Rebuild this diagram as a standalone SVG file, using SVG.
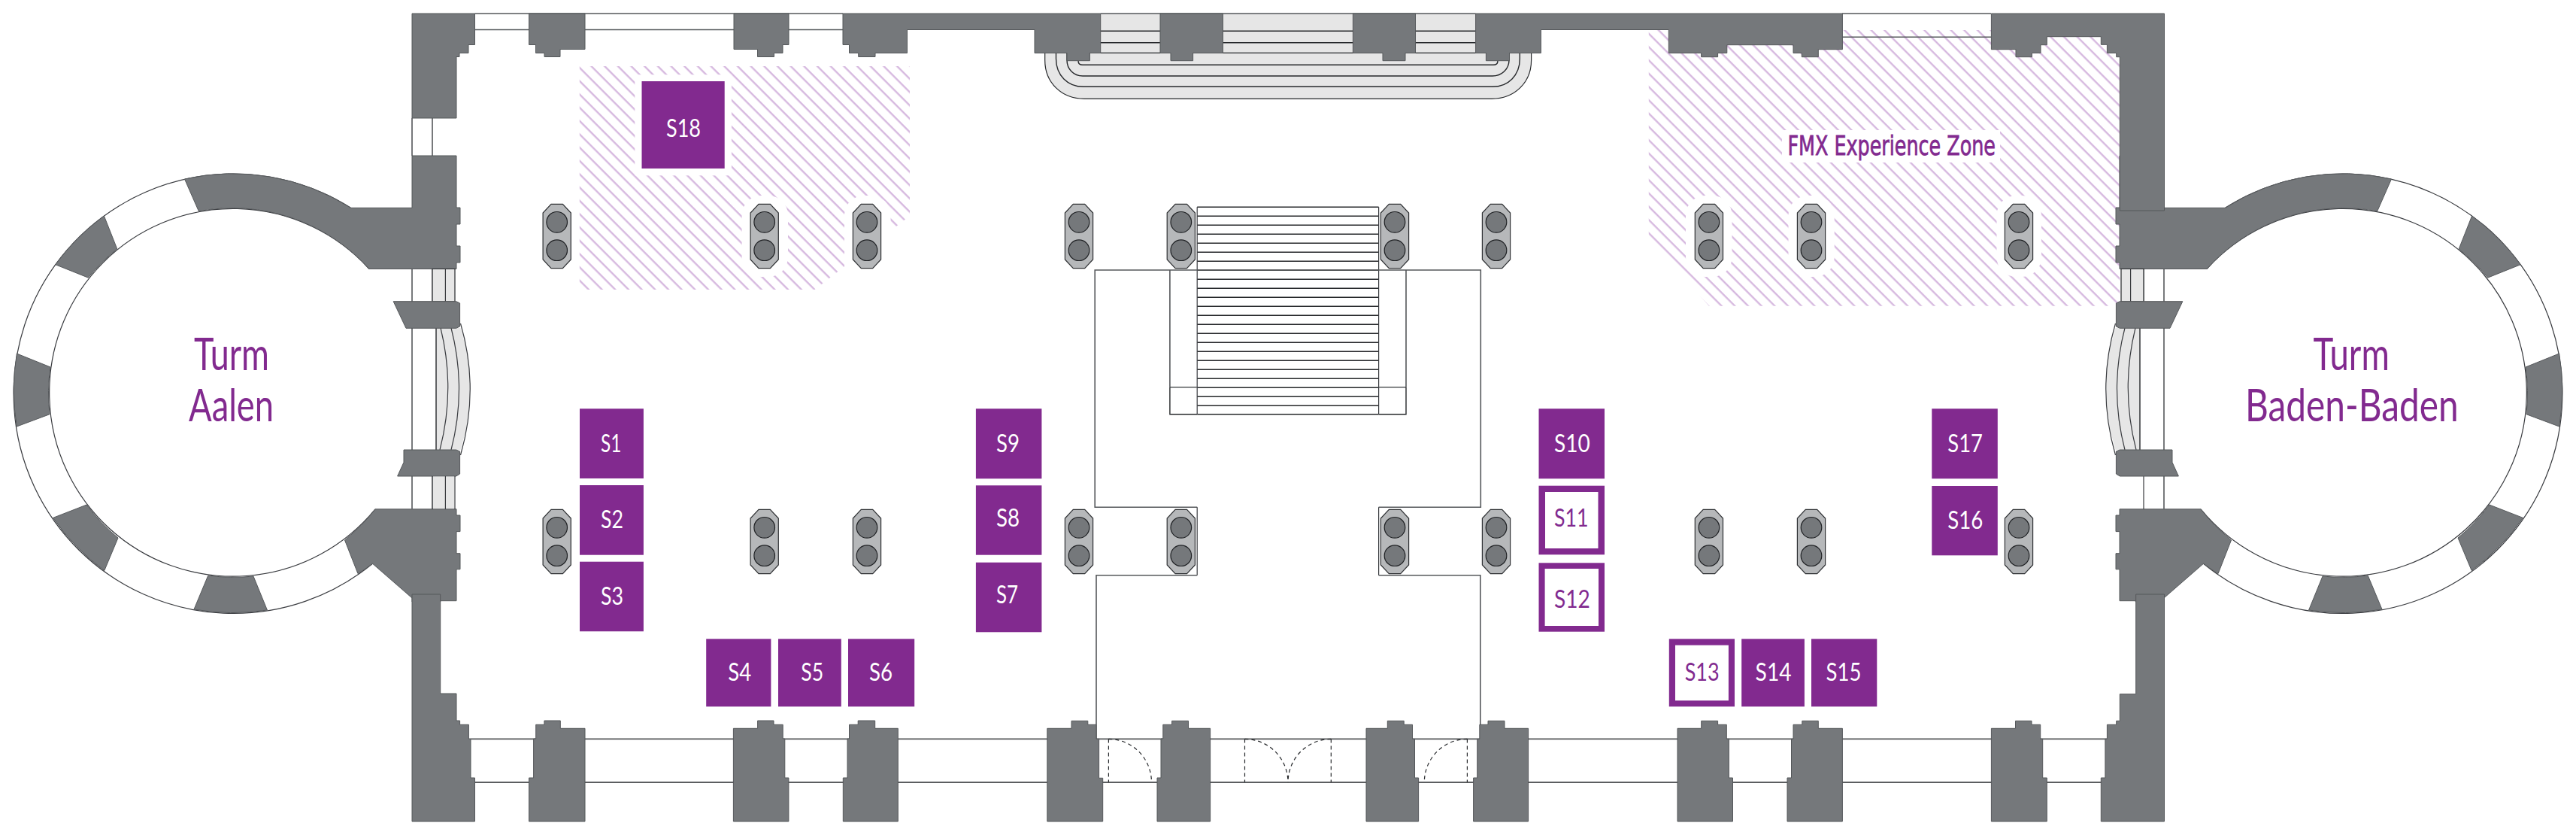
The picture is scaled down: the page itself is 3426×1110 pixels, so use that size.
<svg xmlns="http://www.w3.org/2000/svg" xmlns:xlink="http://www.w3.org/1999/xlink" width="3426" height="1110" viewBox="0 0 3426 1110">
<style>
.w{fill:#75787b;stroke:#55585b;stroke-width:1}
.l{fill:none;stroke:#55585b;stroke-width:1.6}
.k{fill:none;stroke:#26282b;stroke-width:1.4}
.t{fill:none;stroke:#3a3c40;stroke-width:1.2}
.g{fill:#e6e6e6;stroke:#26282b;stroke-width:1.2}
.d{fill:none;stroke:#26282b;stroke-width:1.2;stroke-dasharray:5 4}
.b{fill:#822a8f}
.i{fill:#fff}
.s{font-family:"Lato","Noto Sans",sans-serif;font-size:33px;fill:#fff}
.p{fill:#822a8f}
.big{font-family:"Lato","Noto Sans",sans-serif;font-size:60px;font-weight:400;fill:#822a8f}
.fmx{font-family:"DejaVu Sans",sans-serif;font-size:35px;fill:#822a8f;stroke:#822a8f;stroke-width:.8}
</style>
<defs>
<pattern id="hatch" patternUnits="userSpaceOnUse" width="12.5" height="12.5" patternTransform="rotate(45)">
<rect x="0" y="5" width="12.5" height="2.2" fill="#d3b3dd"/>
</pattern>
<g id="column">
<path d="M-7.7,-42.7 H7.7 L18.6,-31 V31 L7.7,42.7 H-7.7 L-18.6,31 V-31 Z" fill="#b6b8ba" stroke="#2e3033" stroke-width="1.2"/>
<circle cx="0" cy="-18.7" r="13.8" fill="#75787b" stroke="#1f2124" stroke-width="1.2"/>
<circle cx="0" cy="18.7" r="13.8" fill="#75787b" stroke="#1f2124" stroke-width="1.2"/>
</g>
<g id="tower">
<path class="t" d="M466.5,276.3 A292.2,292.2 0 1 0 495.5,749.3"/>
<path class="t" d="M491,357.5 A244.4,244.4 0 1 0 499,676.8"/>
<path class="w" d="M548,207 H607 V276 H612 V298 H607 V327 H612 V349 H607 V357.5 H491 A244.4,244.4 0 0 0 264.3,280.8 L245.5,238 A292.2,292.2 0 0 1 466.5,276.3 H548 Z"/>
<path class="w" d="M138.4,287 A292.2,292.2 0 0 0 73.7,351.7 L117.4,369.2 A244.4,244.4 0 0 1 155.8,331 Z"/>
<path class="w" d="M22.3,470 A292.2,292.2 0 0 0 22.3,567 L66,550.7 A244.4,244.4 0 0 1 67,488 Z"/>
<path class="w" d="M70.5,688.4 A292.2,292.2 0 0 0 138.8,758.5 L157,715 A244.4,244.4 0 0 1 115.2,671 Z"/>
<path class="w" d="M258,810 A292.2,292.2 0 0 0 355.4,811 L337,766 A244.4,244.4 0 0 1 276.8,765 Z"/>
<path class="w" d="M499,676.8 H607 V685 H612 V706.6 H607 V735.7 H612 V756.8 H607 V798.7 H585.7 V800 H548 V795 L495.5,749.3 A292.2,292.2 0 0 1 476,762.6 L458.5,718 A244.4,244.4 0 0 0 499,676.8 Z"/>
<path class="l" d="M548,357.5 V676.8"/>
<path class="t" d="M575,357.5 V400 M575,633 V677"/>
<path class="g" d="M575,357.5 H605 V401 H575 Z"/>
<path class="t" d="M592.4,357.5 V401"/>
<path d="M580,436 H612.5 Q638,517 612.5,598 H580 Z" fill="#e6e6e6"/>
<path class="k" d="M580,436 V598"/>
<path class="t" d="M586,436 Q606,517 585,598 M600,436 Q621,517 600,598 M612.5,430 Q638,517 612.5,605"/>
<path class="w" d="M523.2,400.7 H606.7 L611.6,403 V434 L606.7,436.3 H540 Z"/>
<path class="w" d="M537,598 H606.7 L611.6,600 V630 L606.7,633 H528.6 L537,614.6 Z"/>
</g>
</defs>
<rect width="3426" height="1110" fill="#fff"/>

<g id="zones">
<path fill="url(#hatch)" d="M770.8,88 H1210 V287 L1083.6,385 H770.8 Z"/>
<path fill="url(#hatch)" d="M2192.8,40 H2819.3 V406.7 H2272.9 L2192.8,316.7 Z"/>
<g fill="#fff">
<rect x="844.3" y="99.3" width="128.6" height="134"/>
<rect x="986.6" y="260" width="61.4" height="108" rx="26"/>
<rect x="1123" y="260" width="61.6" height="125" rx="26"/>
<rect x="2242" y="260" width="61.5" height="108" rx="26"/>
<rect x="2378.5" y="260" width="61.2" height="108" rx="26"/>
<rect x="2655.5" y="260" width="59.5" height="108" rx="26"/>
<rect x="2370" y="173" width="290" height="43"/>
</g>
</g>

<g id="stairs-top">
<path class="g" d="M1389.7,70.5 V80 C1389.7,110 1412,131.3 1442,131.3 H1984 C2014,131.3 2036.6,110 2036.6,80 V70.5 Z"/>
<path class="k" d="M1404.5,70.5 V78 C1404.5,100 1420,115.3 1441,115.3 H1985 C2006,115.3 2021.3,100 2021.3,78 V70.5"/>
<path class="k" d="M1419,70.5 V80 C1419,92 1428,101 1440,101 H1985 C1997,101 2007,92 2007,80 V70.5"/>
<path class="k" d="M1434,80.7 C1434,84 1436,86.3 1440,86.3 H1986 C1990,86.3 1992,84 1992,80.7"/>
<rect x="1463.7" y="18" width="498.9" height="52.5" fill="#e6e6e6"/>
<path class="k" d="M1463.7,41.3 H1962.6 M1463.7,56.7 H1962.6 M1463.7,70.4 H1962.6"/>
<path class="l" d="M1463.7,18 H1962.6"/>
</g>

<g id="windows">
<path class="l" d="M631.5,18 H1121 M631.5,39.5 H1121 M2450,18 H2648 M2450,49.3 H2648"/>
<path class="l" d="M548,157 V207 M575,157 V207"/>
<path class="l" d="M626,982.4 H2802"/>
<path class="k" d="M631,1040 H2800"/>
<path class="d" d="M1474.4,982.4 V1040 M1474.4,982.4 A57,57.6 0 0 1 1531.5,1040 M1655.5,982.4 V1040 M1655.5,982.4 A57.5,57.6 0 0 1 1713,1040 M1770.3,982.4 V1040 M1770.3,982.4 A57.3,57.6 0 0 0 1713,1040 M1951.4,982.4 V1040 M1951.4,982.4 A57,57.6 0 0 0 1894.3,1040"/>
</g>

<g id="central-stair" >
<path class="k" d="M1592.2,275.3 H1833.6 M1592.2,287.3 H1833.6 M1592.2,299.3 H1833.6 M1592.2,311.3 H1833.6 M1592.2,323.3 H1833.6 M1592.2,335.3 H1833.6 M1592.2,347.3 H1833.6 M1592.2,359.3 H1833.6 M1592.2,371.3 H1833.6 M1592.2,383.3 H1833.6 M1592.2,395.3 H1833.6 M1592.2,407.3 H1833.6 M1592.2,419.3 H1833.6 M1592.2,431.3 H1833.6 M1592.2,443.3 H1833.6 M1592.2,455.3 H1833.6 M1592.2,467.3 H1833.6 M1592.2,479.3 H1833.6 M1592.2,491.3 H1833.6 M1592.2,503.3 H1833.6 M1592.2,515.3 H1833.6 M1592.2,527.3 H1833.6 M1592.2,539.3 H1833.6 M1592.2,550.7 H1833.6"/>
<path class="t" d="M1592.2,275.3 V550.7 M1833.6,275.3 V550.7"/>
<path class="l" d="M1592.2,674.3 H1456.2 V359 H1969.3 V674.3 H1833.6"/>
<path class="l" d="M1555.9,514.7 V359 M1870,514.7 V359 M1555.9,514.7 H1592.2 M1833.6,514.7 H1870"/>
<path class="k" d="M1555.9,514.7 V550.7 H1592.2 M1870,514.7 V550.7 H1833.6"/>
<path class="t" d="M1592.2,674.3 V764.7 M1833.6,674.3 V764.7"/>
<path class="l" d="M1592.2,764.7 H1458 V982.3 M1833.6,764.7 H1968.8 V982.3"/>
</g>

<g id="towers">
<g id="tower-left"><use xlink:href="#tower" href="#tower"/></g>
<g id="tower-right" transform="matrix(-1 0 0 1 3426 0)"><use xlink:href="#tower" href="#tower"/></g>
<path d="M575.5,633.8 H604.5 V676 H575.5 Z" fill="#e6e6e6"/>
<path class="t" d="M575,633 V677 M592.4,633 V677 M605,633 V677"/>
</g>

<g id="walls">
<path class="w" d="M548,18 H631.5 V59.5 H623 V70.5 H611 V75.5 H607 V157 H548 Z"/>
<path class="w" d="M703.5,18 H778 V65.5 H745 V75.5 H724 V70.5 H712.5 V59.5 H703.5 Z"/>
<path class="w" d="M976,18 H1049 V59.5 H1041 V70.5 H1029.5 V75.5 H1007.5 V65.5 H976 Z"/>
<path class="w" d="M1121,18 H1463.7 V70.5 H1449.4 V80.7 H1419 V70.5 H1376 V39.5 H1206.5 V70.5 H1164 V75.5 H1141.7 V70.5 H1129.5 V59.5 H1121 Z"/>
<path class="w" d="M1543,18 H1626.4 V70.5 H1586.6 V80.7 H1557 V70.5 H1543 Z"/>
<path class="w" d="M1799.4,18 H1882.5 V70.5 H1869 V80.7 H1839 V70.5 H1799.4 Z"/>
<path class="w" d="M1962.6,18 H2450.4 V65.7 H2418.3 V75.7 H2396.3 V70.5 H2385 V59.7 H2296.8 V70.5 H2284.6 V75.7 H2262.6 V70.5 H2219.3 V39.5 H2049.4 V70.5 H2007.5 V80.7 H1976.4 V70.5 H1962.6 Z"/>
<path class="w" d="M2648.4,18 H2878.5 V280 H2819.3 V75.7 H2814.7 V70.5 H2802.4 V59.3 H2794.3 V48.7 H2722.3 V59.7 H2714 V70.5 H2702.4 V75.7 H2681 V65.7 H2648.4 Z"/>
<path class="w" d="M548,790 H585.7 V922 H607 V958 H611.6 V963.3 H623.4 V982 H626 V1034 H631.5 V1092 H548 Z"/>
<path class="w" d="M703.5,1092 H778 V968.3 H745.3 V958 H723.9 V963.3 H712.7 V982 H709.6 V1034 H703.5 Z"/>
<path class="w" d="M975.4,1092 H1048.9 V1034 H1043.8 V982 H1041.2 V963.3 H1029 V958 H1007.6 V968.3 H975.4 Z"/>
<path class="w" d="M1121.3,1092 H1194.3 V968.3 H1163.7 V958 H1141.2 V963.3 H1129.5 V982 H1127 V1034 H1121.3 Z"/>
<path class="w" d="M1392.8,1092 H1466.7 V1034.3 H1461.6 V982.3 H1458 V963.3 H1446.8 V958.3 H1425 V968.3 H1392.8 Z"/>
<path class="w" d="M1539,1092 H1609.6 V968.3 H1580.5 V958.3 H1558.6 V963.3 H1546.8 V982 H1544 V1034 H1539 Z"/>
<path class="w" d="M1817,1092 H1886.6 V1034 H1881.5 V982.3 H1878.5 V963.3 H1867.2 V958.3 H1845.3 V968.3 H1817 Z"/>
<path class="w" d="M1959.6,1092 H2032.6 V968.3 H2001 V958.3 H1979 V963.3 H1967.8 V982.3 H1964.7 V1034 H1959.6 Z"/>
<path class="w" d="M2231,1092 H2304.5 V1034 H2299.4 V982.3 H2296.3 V963.3 H2284.6 V958.3 H2262.7 V968.3 H2231 Z"/>
<path class="w" d="M2377,1092 H2450.4 V968.3 H2418.3 V958.3 H2396.8 V963.3 H2385 V982.3 H2382.5 V1034 H2377 Z"/>
<path class="w" d="M2648.4,1092 H2722.3 V1034 H2716.7 V982.3 H2713.7 V963.3 H2702 V958.3 H2680.5 V968.3 H2648.4 Z"/>
<path class="w" d="M2878.5,790 V1092 H2794.3 V1034 H2799.9 V982.3 H2802.4 V963.3 H2814.7 V958.3 H2819.3 V922.7 H2840.7 V790 Z"/>
</g>

<g id="columns">
<use xlink:href="#column" href="#column" x="740.7" y="314"/>
<use xlink:href="#column" href="#column" x="1016.7" y="314"/>
<use xlink:href="#column" href="#column" x="1153" y="314"/>
<use xlink:href="#column" href="#column" x="1435" y="314"/>
<use xlink:href="#column" href="#column" x="1570.8" y="314"/>
<use xlink:href="#column" href="#column" x="1855" y="314"/>
<use xlink:href="#column" href="#column" x="1990" y="314"/>
<use xlink:href="#column" href="#column" x="2272.9" y="314"/>
<use xlink:href="#column" href="#column" x="2409" y="314"/>
<use xlink:href="#column" href="#column" x="2685" y="314"/>
<use xlink:href="#column" href="#column" x="740.7" y="720"/>
<use xlink:href="#column" href="#column" x="1016.7" y="720"/>
<use xlink:href="#column" href="#column" x="1153" y="720"/>
<use xlink:href="#column" href="#column" x="1435" y="720"/>
<use xlink:href="#column" href="#column" x="1570.8" y="720"/>
<use xlink:href="#column" href="#column" x="1855" y="720"/>
<use xlink:href="#column" href="#column" x="1990" y="720"/>
<use xlink:href="#column" href="#column" x="2272.9" y="720"/>
<use xlink:href="#column" href="#column" x="2409" y="720"/>
<use xlink:href="#column" href="#column" x="2685" y="720"/>
</g>

<g id="labels">
<text id="turm-aalen-1" class="big" x="258" y="491.5" textLength="100" lengthAdjust="spacingAndGlyphs">Turm</text>
<text id="turm-aalen-2" class="big" x="251" y="559.5" textLength="113" lengthAdjust="spacingAndGlyphs">Aalen</text>
<text id="turm-baden-1" class="big" x="3076.4" y="491.5" textLength="101.4" lengthAdjust="spacingAndGlyphs">Turm</text>
<text id="turm-baden-2" class="big" x="2986" y="559.5" textLength="283.8" lengthAdjust="spacingAndGlyphs">Baden-Baden</text>
<text id="fmx-zone" class="fmx" x="2377.4" y="205.7" textLength="276.6" lengthAdjust="spacingAndGlyphs">FMX Experience Zone</text>
</g>

<g id="S1"><rect class="b" x="771" y="543.3" width="84.9" height="92.7"/><text class="s" x="799" y="601" textLength="27.4" lengthAdjust="spacingAndGlyphs">S1</text></g>
<g id="S2"><rect class="b" x="771" y="645" width="84.9" height="92.7"/><text class="s" x="799" y="702" textLength="30" lengthAdjust="spacingAndGlyphs">S2</text></g>
<g id="S3"><rect class="b" x="771" y="746.7" width="84.9" height="92.6"/><text class="s" x="799" y="804" textLength="30" lengthAdjust="spacingAndGlyphs">S3</text></g>
<g id="S4"><rect class="b" x="939.2" y="849.3" width="86.2" height="90"/><text class="s" x="968.3" y="905.3" textLength="31" lengthAdjust="spacingAndGlyphs">S4</text></g>
<g id="S5"><rect class="b" x="1035" y="849.3" width="83.8" height="90"/><text class="s" x="1065.2" y="905.3" textLength="30" lengthAdjust="spacingAndGlyphs">S5</text></g>
<g id="S6"><rect class="b" x="1128" y="849.3" width="88.2" height="90"/><text class="s" x="1156" y="905.3" textLength="31" lengthAdjust="spacingAndGlyphs">S6</text></g>
<g id="S7"><rect class="b" x="1297.9" y="747.7" width="87.5" height="92.6"/><text class="s" x="1325" y="802.3" textLength="29" lengthAdjust="spacingAndGlyphs">S7</text></g>
<g id="S8"><rect class="b" x="1297.9" y="645.3" width="87.5" height="92.4"/><text class="s" x="1325" y="700.3" textLength="31" lengthAdjust="spacingAndGlyphs">S8</text></g>
<g id="S9"><rect class="b" x="1297.9" y="543.3" width="87.5" height="93"/><text class="s" x="1325" y="601" textLength="31" lengthAdjust="spacingAndGlyphs">S9</text></g>
<g id="S10"><rect class="b" x="2046.5" y="543.3" width="87.5" height="93"/><text class="s" x="2067" y="601" textLength="47.8" lengthAdjust="spacingAndGlyphs">S10</text></g>
<g id="S11"><rect class="b" x="2046.5" y="645.7" width="87.5" height="91.6"/><rect class="i" x="2055" y="654" width="70.5" height="75"/><text class="s p" style="fill:#822a8f" x="2067" y="700.3" textLength="45.6" lengthAdjust="spacingAndGlyphs">S11</text></g>
<g id="S12"><rect class="b" x="2046.5" y="748.3" width="87.5" height="91.4"/><rect class="i" x="2054.6" y="756" width="71.4" height="76"/><text class="s p" style="fill:#822a8f" x="2067" y="808.3" textLength="47.8" lengthAdjust="spacingAndGlyphs">S12</text></g>
<g id="S13"><rect class="b" x="2219.8" y="849.3" width="87.2" height="90"/><rect class="i" x="2228" y="857.7" width="70.9" height="73.6"/><text class="s p" style="fill:#822a8f" x="2240.7" y="905" textLength="45.9" lengthAdjust="spacingAndGlyphs">S13</text></g>
<g id="S14"><rect class="b" x="2316.2" y="849.3" width="83.7" height="90"/><text class="s" x="2334.6" y="905" textLength="48" lengthAdjust="spacingAndGlyphs">S14</text></g>
<g id="S15"><rect class="b" x="2409" y="849.3" width="87.3" height="90"/><text class="s" x="2428.5" y="905" textLength="46.9" lengthAdjust="spacingAndGlyphs">S15</text></g>
<g id="S16"><rect class="b" x="2569.3" y="646" width="87.5" height="92.3"/><text class="s" x="2590.3" y="703" textLength="47" lengthAdjust="spacingAndGlyphs">S16</text></g>
<g id="S17"><rect class="b" x="2569.3" y="543.3" width="87.5" height="93"/><text class="s" x="2590.3" y="601" textLength="46.7" lengthAdjust="spacingAndGlyphs">S17</text></g>
<g id="S18"><rect class="b" x="853.5" y="108" width="110.2" height="116"/><text class="s" x="886" y="181.7" textLength="46" lengthAdjust="spacingAndGlyphs">S18</text></g>
</svg>
